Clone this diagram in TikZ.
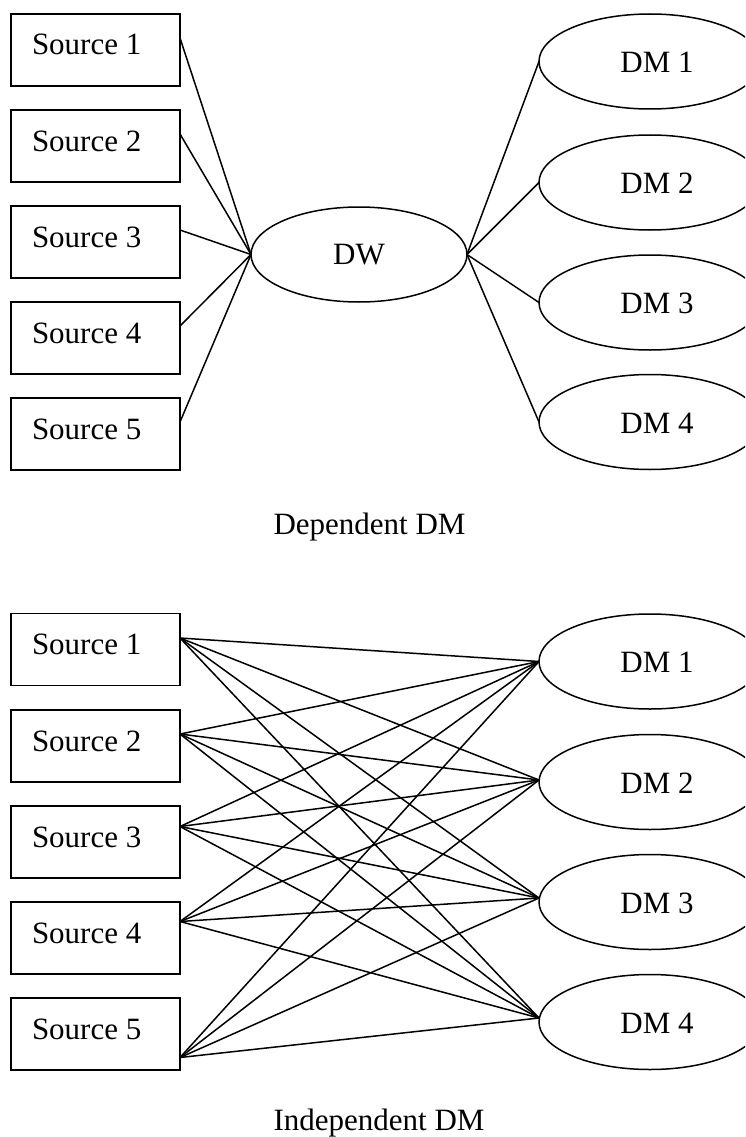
\documentclass[tikz,border=0pt]{standalone}
\usepackage{fontspec}
\setmainfont{Liberation Serif}
\usetikzlibrary{shapes.geometric,calc}

\tikzset{
  lbl/.style={font=\fontsize{31}{37}\selectfont, inner sep=0pt, outer sep=0pt},
  srcbox/.style={draw, rectangle, minimum width=169pt, minimum height=72pt,
                 inner sep=0pt, outer sep=0pt, line width=1.5pt},
  oval/.style={draw, ellipse, minimum width=222pt, minimum height=95pt,
               inner sep=0pt, outer sep=0pt, line width=1.5pt},
  link/.style={line width=1.5pt, line cap=round}
}

\begin{document}
\begin{tikzpicture}[x=1pt, y=-1pt]
  \useasboundingbox (0,0) rectangle (745,1137);
  \clip (0,0) rectangle (745,1137);

  % ---------- upper panel: sources feed one warehouse ----------
  \foreach \i/\cy in {1/50, 2/146, 3/242, 4/338, 5/434} {
    \node[srcbox] (ts\i) at (95.5,\cy) {};
    \node[lbl, anchor=base west] (tst\i) at ($(32,\cy)+(0,5)$) {Source \i};
    \coordinate (tp\i) at ([yshift=12pt]ts\i.east);
  }

  \node[oval, minimum width=216pt] (dw) at (359,254.5) {};
  \node[lbl] (dwt) at (359,254.5) {DW};

  \foreach \i/\cy in {1/61.5, 2/182.5, 3/302.5, 4/422} {
    \node[oval] (tdm\i) at (650,\cy) {};
    \node[lbl] (tdmt\i) at ($(657,\cy)+(0,1)$) {DM \i};
  }

  \foreach \i in {1,...,5} \draw[link] (tp\i) -- (dw.west);
  \foreach \i in {1,...,4} \draw[link] (dw.east) -- (tdm\i.west);

  \node[lbl, anchor=base] (cap1) at (369.5,534) {Dependent DM};

  % ---------- lower panel: every source feeds every mart ----------
  \foreach \i/\cy/\dy in {1/649.5/11.5, 2/746/12, 3/842/15.5, 4/938/16.5, 5/1034/-23.5} {
    \node[srcbox] (bs\i) at (95.5,\cy) {};
    \node[lbl, anchor=base west] (bst\i) at ($(32,\cy)+(0,5)$) {Source \i};
    \coordinate (bp\i) at ([yshift=\dy pt]bs\i.east);
  }

  \foreach \i/\cy/\dy in {1/661.5/0, 2/782/2, 3/902/4, 4/1022/4} {
    \node[oval] (bdm\i) at (650,\cy) {};
    \node[lbl] (bdmt\i) at ($(657,\cy)+(0,1)$) {DM \i};
    \coordinate (bq\i) at ([yshift=\dy pt]bdm\i.west);
  }

  \foreach \i in {1,...,5}
    \foreach \j in {1,...,4}
      \draw[link] (bp\i) -- (bq\j);

  \node[lbl, anchor=base] (cap2) at (379,1130) {Independent DM};
\end{tikzpicture}
\end{document}
